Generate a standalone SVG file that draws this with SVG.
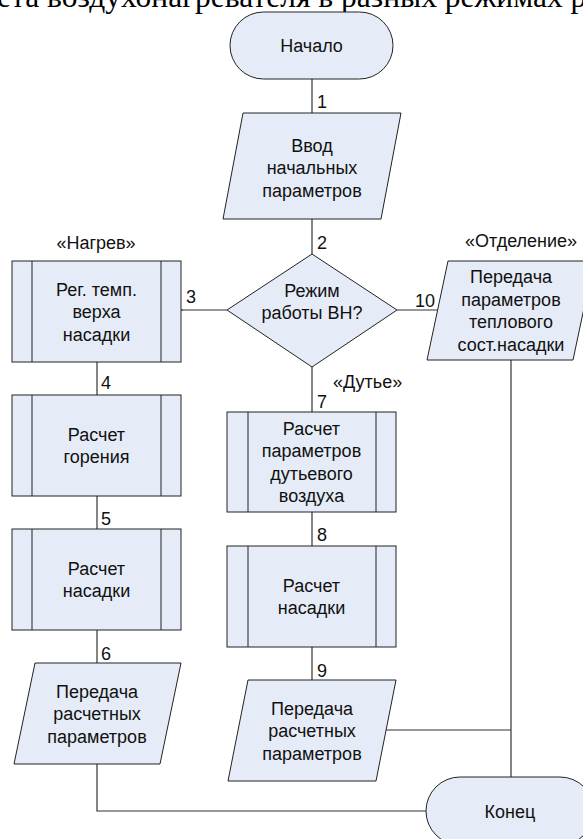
<svg xmlns="http://www.w3.org/2000/svg" width="583" height="839" viewBox="0 0 583 839">
<style>
.shape{fill:#E6ECF7;stroke:#222;stroke-width:1}
.bar{stroke:#222;stroke-width:1;fill:none}
.conn{stroke:#333;stroke-width:1.2;fill:none}
.t{font-family:"Liberation Sans",Arial,sans-serif;font-size:18px;fill:#111;text-anchor:middle}
.lbl{font-family:"Liberation Sans",Arial,sans-serif;font-size:18px;fill:#111}
.title{font-family:"Liberation Serif","Times New Roman",serif;font-size:31.5px;fill:#000}
</style>
<defs>
<marker id="openArrow" markerWidth="18" markerHeight="12" refX="1" refY="6" orient="auto" markerUnits="userSpaceOnUse">
<path d="M17,1 L1,6 L17,11" fill="none" stroke="#333" stroke-width="1.2"/>
</marker>
</defs>
<rect width="583" height="839" fill="#fff"/>
<text class="title" x="-3" y="7">ета воздухонагревателя в разных режимах р</text>

<g id="connectors">
<line class="conn" x1="312" y1="79" x2="312" y2="113"/>
<line class="conn" x1="312" y1="219" x2="312" y2="254"/>
<path class="conn" d="M227,310 L182,310" marker-end="url(#openArrow)"/>
<line class="conn" x1="97" y1="362" x2="97" y2="395"/>
<line class="conn" x1="97" y1="496" x2="97" y2="529"/>
<line class="conn" x1="97" y1="630" x2="97" y2="663"/>
<line class="conn" x1="312" y1="367" x2="312" y2="412"/>
<line class="conn" x1="312" y1="512" x2="312" y2="546"/>
<line class="conn" x1="312" y1="647" x2="312" y2="680"/>
<line class="conn" x1="397" y1="310" x2="437.5" y2="310"/>
<line class="conn" x1="511" y1="360" x2="511" y2="777"/>
<line class="conn" x1="386" y1="730" x2="511" y2="730"/>
<path class="conn" d="M97,764 L97,811 L426,811"/>
<text class="lbl" x="317" y="108">1</text>
<text class="lbl" x="317" y="249">2</text>
<text class="lbl" x="186" y="303">3</text>
<text class="lbl" x="101" y="389">4</text>
<text class="lbl" x="101" y="525">5</text>
<text class="lbl" x="101" y="660">6</text>
<text class="lbl" x="317" y="408">7</text>
<text class="lbl" x="317" y="541">8</text>
<text class="lbl" x="317" y="677">9</text>
<text class="lbl" x="415" y="307">10</text>
<text class="lbl" x="96" y="249" text-anchor="middle">«Нагрев»</text>
<text class="lbl" x="465" y="247">«Отделение»</text>
<text class="lbl" x="333" y="388">«Дутье»</text>
</g>

<g id="start">
<rect class="shape" x="230" y="12" width="163" height="67" rx="33.5"/>
<text class="t" x="311.5" y="52">Начало</text>
</g>

<g id="input">
<polygon class="shape" points="243,113 401,113 381,219 223,219"/>
<text class="t" x="312" y="151.5">Ввод</text>
<text class="t" x="312" y="174">начальных</text>
<text class="t" x="312" y="196.5">параметров</text>
</g>

<g id="decision">
<polygon class="shape" points="312,254 397,310 312,367 227,310"/>
<text class="t" x="312" y="296.5">Режим</text>
<text class="t" x="312" y="319">работы ВН?</text>
</g>

<g id="reg-temp">
<rect class="shape" x="12" y="261" width="169" height="101"/>
<path class="bar" d="M32,261 V362 M161,261 V362"/>
<text class="t" x="96.5" y="295.5">Рег. темп.</text>
<text class="t" x="96.5" y="318">верха</text>
<text class="t" x="96.5" y="340.5">насадки</text>
</g>

<g id="combustion">
<rect class="shape" x="12" y="395" width="169" height="101"/>
<path class="bar" d="M32,395 V496 M161,395 V496"/>
<text class="t" x="96.5" y="440.5">Расчет</text>
<text class="t" x="96.5" y="463">горения</text>
</g>

<g id="packing-left">
<rect class="shape" x="12" y="529" width="169" height="101"/>
<path class="bar" d="M32,529 V630 M161,529 V630"/>
<text class="t" x="96.5" y="574.5">Расчет</text>
<text class="t" x="96.5" y="597">насадки</text>
</g>

<g id="output-left">
<polygon class="shape" points="35,663 181,663 160,764 14,764"/>
<text class="t" x="97" y="697.5">Передача</text>
<text class="t" x="97" y="720">расчетных</text>
<text class="t" x="97" y="742.5">параметров</text>
</g>

<g id="blast-air">
<rect class="shape" x="227" y="412" width="169" height="100"/>
<path class="bar" d="M248,412 V512 M376,412 V512"/>
<text class="t" x="311.5" y="434.5">Расчет</text>
<text class="t" x="311.5" y="457">параметров</text>
<text class="t" x="311.5" y="479.5">дутьевого</text>
<text class="t" x="311.5" y="502">воздуха</text>
</g>

<g id="packing-mid">
<rect class="shape" x="227" y="546" width="169" height="101"/>
<path class="bar" d="M248,546 V647 M376,546 V647"/>
<text class="t" x="311.5" y="591.5">Расчет</text>
<text class="t" x="311.5" y="614">насадки</text>
</g>

<g id="output-mid">
<polygon class="shape" points="248,680 396,680 376,781 228,781"/>
<text class="t" x="312" y="714.5">Передача</text>
<text class="t" x="312" y="737">расчетных</text>
<text class="t" x="312" y="759.5">параметров</text>
</g>

<g id="output-right">
<polygon class="shape" points="448,261 594,261 573,360 427,360"/>
<text class="t" x="511" y="283">Передача</text>
<text class="t" x="511" y="305.5">параметров</text>
<text class="t" x="511" y="328">теплового</text>
<text class="t" x="511" y="350.5">сост.насадки</text>
</g>

<g id="end">
<rect class="shape" x="426" y="777" width="168" height="68" rx="34"/>
<text class="t" x="510" y="817.5">Конец</text>
</g>
</svg>
